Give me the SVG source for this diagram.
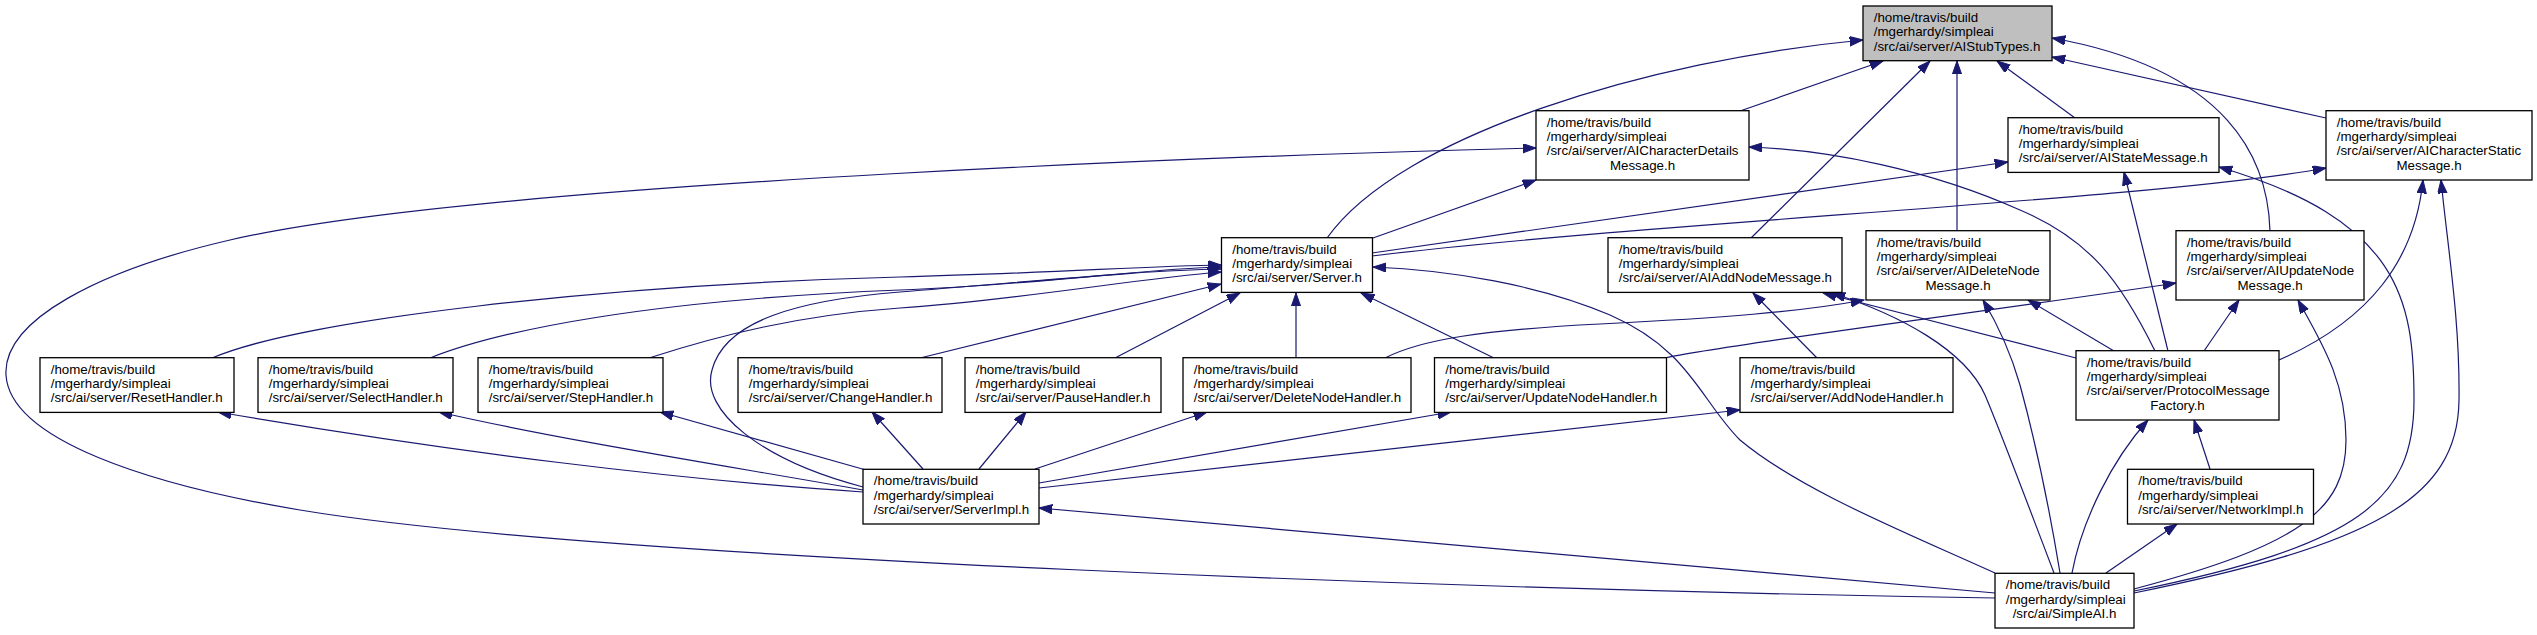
<svg xmlns="http://www.w3.org/2000/svg" width="2537" height="635" viewBox="0 0 2537 635">
<style>
.n rect{fill:#ffffff;stroke:#000000;stroke-width:1.3}
.g rect{fill:#bfbfbf;stroke:#000000;stroke-width:1.3}
text{font-family:"Liberation Sans",Arial,Helvetica,sans-serif;font-size:13.33px;fill:#000000}
.c{text-anchor:middle}
#edges path{fill:none;stroke:#191970;stroke-width:1.2;marker-end:url(#ah)}
</style>
<defs>
<marker id="ah" markerUnits="userSpaceOnUse" markerWidth="15" markerHeight="11" refX="13.3" refY="4.67" orient="auto">
<path d="M0,0 L13.3,4.67 L0,9.33 Z" fill="#191970" stroke="#191970" stroke-width="1"/>
</marker>
</defs>
<rect x="0" y="0" width="2537" height="635" fill="#ffffff"/>
<g id="edges">
<path d="M1327,238 C1400,135 1650,60 1863,40"/>
<path d="M1740,111 L1883,61"/>
<path d="M1751,238 L1930,61"/>
<path d="M1957,231 L1957,61"/>
<path d="M2075,118 L1997,61"/>
<path d="M2270,231 C2268,160 2230,70 2052,38"/>
<path d="M2326,118 L2052,57"/>
<path d="M1995,598 C1500,590 600,560 300,510 C150,485 10,440 6,375 C2.6,320 100,270 230,240 C490,180 1300,154 1536,148"/>
<path d="M1373,238 L1536,180"/>
<path d="M2155,351 C2120,280 2090,240 2020,210 C1930,170 1830,150 1749,147"/>
<path d="M1372,253 L2008,162"/>
<path d="M2168,351 L2124,172"/>
<path d="M2134,591 C2360,545 2414,500 2414,400 C2414,300 2400,220 2219,167"/>
<path d="M1372,256 C1650,222 2150,200 2326,168"/>
<path d="M2279,360 C2370,320 2415,260 2423,180"/>
<path d="M2134,593 C2370,545 2458,500 2459,400 C2460,320 2448,250 2441,180"/>
<path d="M1817,358 L1753,293"/>
<path d="M2076,358 L1823,293"/>
<path d="M2054,573 C2030,510 2000,430 1985,395 C1965,350 1900,315 1832,293"/>
<path d="M1385,358 C1420,340 1480,330 1600,324 C1720,318 1800,312 1864,300"/>
<path d="M2114,351 L2028,300"/>
<path d="M2060,573 C2048,500 2035,440 2020,385 C2010,350 1995,320 1983,300"/>
<path d="M1665,358 C1720,345 2000,310 2176,283"/>
<path d="M2204,351 L2239,300"/>
<path d="M2134,589 C2300,545 2346,510 2346,440 C2346,380 2320,340 2298,300"/>
<path d="M212,358 C300,320 600,285 900,277 C1050,273 1150,266 1221,265"/>
<path d="M430,358 C500,330 650,300 900,290 C1050,284 1150,268 1221,267"/>
<path d="M649,358 C720,335 800,315 900,308 C1020,300 1140,278 1221,272"/>
<path d="M920,358 L1221,284"/>
<path d="M1115,358 L1240,293"/>
<path d="M1296,358 L1296,293"/>
<path d="M1494,358 L1361,293"/>
<path d="M863,487 C760,460 700,410 712,370 C725,320 800,300 900,292 C1050,280 1150,270 1221,269"/>
<path d="M1995,573 C1900,530 1800,490 1740,440 C1700,400 1690,350 1610,315 C1540,285 1450,270 1373,267"/>
<path d="M863,492 C680,480 450,452 218,412"/>
<path d="M863,490 C740,468 560,440 439,412"/>
<path d="M866,470 L660,412"/>
<path d="M923,469 L872,412"/>
<path d="M979,469 L1026,412"/>
<path d="M1035,469 L1207,412"/>
<path d="M1039,483 L1451,412"/>
<path d="M1039,488 L1740,410"/>
<path d="M1995,593 L1039,508"/>
<path d="M2072,573 C2082,520 2112,460 2148,420"/>
<path d="M2210,469 L2194,420"/>
<path d="M2106,573 L2177,524"/>
</g>
<g id="node_AIStubTypes" class="g">
<rect x="1863" y="6" width="189" height="54.7"/>
<text x="1873.7" y="22">/home/travis/build</text>
<text x="1873.7" y="36.3">/mgerhardy/simpleai</text>
<text x="1873.7" y="50.6">/src/ai/server/AIStubTypes.h</text>
</g>
<g id="node_AICharacterDetailsMessage" class="n">
<rect x="1536" y="110.7" width="213" height="69.3"/>
<text x="1546.7" y="126.7">/home/travis/build</text>
<text x="1546.7" y="141">/mgerhardy/simpleai</text>
<text x="1546.7" y="155.3">/src/ai/server/AICharacterDetails</text>
<text x="1642.5" y="169.6" class="c">Message.h</text>
</g>
<g id="node_AIStateMessage" class="n">
<rect x="2008" y="117.7" width="211" height="54.7"/>
<text x="2018.7" y="133.7">/home/travis/build</text>
<text x="2018.7" y="148">/mgerhardy/simpleai</text>
<text x="2018.7" y="162.3">/src/ai/server/AIStateMessage.h</text>
</g>
<g id="node_AICharacterStaticMessage" class="n">
<rect x="2326" y="110.7" width="206" height="69.3"/>
<text x="2336.7" y="126.7">/home/travis/build</text>
<text x="2336.7" y="141">/mgerhardy/simpleai</text>
<text x="2336.7" y="155.3">/src/ai/server/AICharacterStatic</text>
<text x="2429" y="169.6" class="c">Message.h</text>
</g>
<g id="node_Server" class="n">
<rect x="1221.5" y="237.7" width="151" height="54.7"/>
<text x="1232.2" y="253.7">/home/travis/build</text>
<text x="1232.2" y="268">/mgerhardy/simpleai</text>
<text x="1232.2" y="282.3">/src/ai/server/Server.h</text>
</g>
<g id="node_AIAddNodeMessage" class="n">
<rect x="1608" y="237.7" width="234" height="54.7"/>
<text x="1618.7" y="253.7">/home/travis/build</text>
<text x="1618.7" y="268">/mgerhardy/simpleai</text>
<text x="1618.7" y="282.3">/src/ai/server/AIAddNodeMessage.h</text>
</g>
<g id="node_AIDeleteNodeMessage" class="n">
<rect x="1866" y="230.7" width="184" height="69.3"/>
<text x="1876.7" y="246.7">/home/travis/build</text>
<text x="1876.7" y="261">/mgerhardy/simpleai</text>
<text x="1876.7" y="275.3">/src/ai/server/AIDeleteNode</text>
<text x="1958" y="289.6" class="c">Message.h</text>
</g>
<g id="node_AIUpdateNodeMessage" class="n">
<rect x="2176" y="230.7" width="188" height="69.3"/>
<text x="2186.7" y="246.7">/home/travis/build</text>
<text x="2186.7" y="261">/mgerhardy/simpleai</text>
<text x="2186.7" y="275.3">/src/ai/server/AIUpdateNode</text>
<text x="2270" y="289.6" class="c">Message.h</text>
</g>
<g id="node_ResetHandler" class="n">
<rect x="40" y="357.7" width="194" height="54.7"/>
<text x="50.7" y="373.7">/home/travis/build</text>
<text x="50.7" y="388">/mgerhardy/simpleai</text>
<text x="50.7" y="402.3">/src/ai/server/ResetHandler.h</text>
</g>
<g id="node_SelectHandler" class="n">
<rect x="258" y="357.7" width="195" height="54.7"/>
<text x="268.7" y="373.7">/home/travis/build</text>
<text x="268.7" y="388">/mgerhardy/simpleai</text>
<text x="268.7" y="402.3">/src/ai/server/SelectHandler.h</text>
</g>
<g id="node_StepHandler" class="n">
<rect x="478" y="357.7" width="185" height="54.7"/>
<text x="488.7" y="373.7">/home/travis/build</text>
<text x="488.7" y="388">/mgerhardy/simpleai</text>
<text x="488.7" y="402.3">/src/ai/server/StepHandler.h</text>
</g>
<g id="node_ChangeHandler" class="n">
<rect x="738" y="357.7" width="204" height="54.7"/>
<text x="748.7" y="373.7">/home/travis/build</text>
<text x="748.7" y="388">/mgerhardy/simpleai</text>
<text x="748.7" y="402.3">/src/ai/server/ChangeHandler.h</text>
</g>
<g id="node_PauseHandler" class="n">
<rect x="965" y="357.7" width="196" height="54.7"/>
<text x="975.7" y="373.7">/home/travis/build</text>
<text x="975.7" y="388">/mgerhardy/simpleai</text>
<text x="975.7" y="402.3">/src/ai/server/PauseHandler.h</text>
</g>
<g id="node_DeleteNodeHandler" class="n">
<rect x="1183" y="357.7" width="228" height="54.7"/>
<text x="1193.7" y="373.7">/home/travis/build</text>
<text x="1193.7" y="388">/mgerhardy/simpleai</text>
<text x="1193.7" y="402.3">/src/ai/server/DeleteNodeHandler.h</text>
</g>
<g id="node_UpdateNodeHandler" class="n">
<rect x="1434.5" y="357.7" width="232" height="54.7"/>
<text x="1445.2" y="373.7">/home/travis/build</text>
<text x="1445.2" y="388">/mgerhardy/simpleai</text>
<text x="1445.2" y="402.3">/src/ai/server/UpdateNodeHandler.h</text>
</g>
<g id="node_AddNodeHandler" class="n">
<rect x="1740" y="357.7" width="213" height="54.7"/>
<text x="1750.7" y="373.7">/home/travis/build</text>
<text x="1750.7" y="388">/mgerhardy/simpleai</text>
<text x="1750.7" y="402.3">/src/ai/server/AddNodeHandler.h</text>
</g>
<g id="node_ProtocolMessageFactory" class="n">
<rect x="2076" y="350.7" width="203" height="69.3"/>
<text x="2086.7" y="366.7">/home/travis/build</text>
<text x="2086.7" y="381">/mgerhardy/simpleai</text>
<text x="2086.7" y="395.3">/src/ai/server/ProtocolMessage</text>
<text x="2177.5" y="409.6" class="c">Factory.h</text>
</g>
<g id="node_ServerImpl" class="n">
<rect x="863" y="469.3" width="176" height="54.7"/>
<text x="873.7" y="485.3">/home/travis/build</text>
<text x="873.7" y="499.6">/mgerhardy/simpleai</text>
<text x="873.7" y="513.9">/src/ai/server/ServerImpl.h</text>
</g>
<g id="node_NetworkImpl" class="n">
<rect x="2127.5" y="469.3" width="186" height="54.7"/>
<text x="2138.2" y="485.3">/home/travis/build</text>
<text x="2138.2" y="499.6">/mgerhardy/simpleai</text>
<text x="2138.2" y="513.9">/src/ai/server/NetworkImpl.h</text>
</g>
<g id="node_SimpleAI" class="n">
<rect x="1995" y="573.3" width="139" height="54.7"/>
<text x="2005.7" y="589.3">/home/travis/build</text>
<text x="2005.7" y="603.6">/mgerhardy/simpleai</text>
<text x="2064.5" y="617.9" class="c">/src/ai/SimpleAI.h</text>
</g>
</svg>
